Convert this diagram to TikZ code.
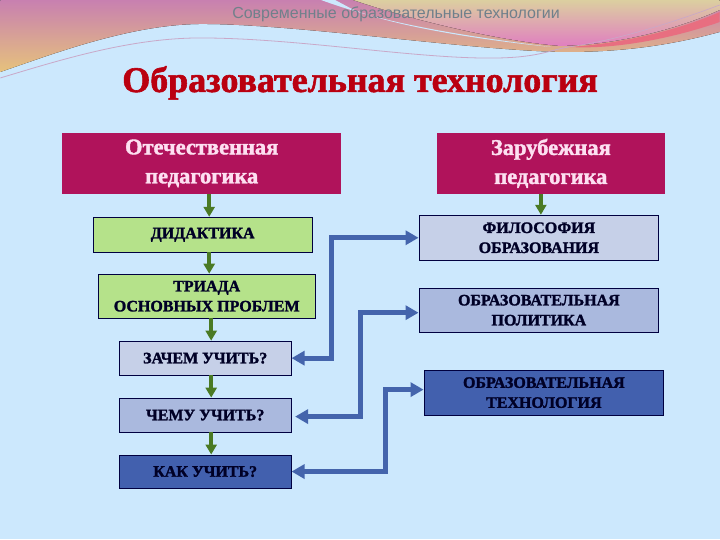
\documentclass[tikz,border=0pt]{standalone}
\usepackage{fontspec}
\setmainfont[BoldFeatures={FakeBold=1.6}]{Liberation Serif}
\newfontfamily\headfont{Liberation Sans}
\usetikzlibrary{positioning, arrows.meta}
\definecolor{skybg}{HTML}{CCE8FD}
\definecolor{roseband}{HTML}{B0135B}
\definecolor{leafbox}{HTML}{B5E28A}
\definecolor{paleblue}{HTML}{C6D0E8}
\definecolor{midblue}{HTML}{AAB9DE}
\definecolor{deepblue}{HTML}{4260AE}
\definecolor{linkblue}{HTML}{4464AC}
\definecolor{stemgreen}{HTML}{4A7A24}
\definecolor{titlered}{HTML}{BA0010}
\definecolor{waveplum}{HTML}{C880B0}
\definecolor{wavesand}{HTML}{E6C27C}
\definecolor{crestsand}{HTML}{DCCFA0}
\definecolor{crestpink}{HTML}{E07FC0}
\definecolor{streakrose}{HTML}{E86E80}
\definecolor{threadlilac}{HTML}{C9A8C8}
\tikzset{
  basebox/.style={draw=black!75!blue, line width=0.9pt, align=center, font=\bfseries\fontsize{16}{20}\selectfont, text=black!85!blue, inner sep=0pt},
  headbox/.style={fill=roseband, text=white!88!magenta, inner sep=0pt, align=center, font=\bfseries\fontsize{22.5}{29}\selectfont, execute at begin node={\rule{0pt}{30pt}}},
  stem/.style={draw=stemgreen, line width=4pt, -{Triangle[length=10pt,width=11pt]}},
  link/.style={draw=linkblue, line width=5pt, {Triangle[length=13pt,width=14pt]}-{Triangle[length=13pt,width=14pt]}},
}
\begin{document}
\begin{tikzpicture}[x=1pt,y=-1pt]
  \fill[skybg] (0,0) rectangle (720,540);
  % wave at the top
  \fill[top color=waveplum, bottom color=wavesand]
    (0,0) -- (720,0) -- (720,32) .. controls (690,40) and (640,52) .. (569,52)
    .. controls (480,52) and (300,24) .. (202,24) .. controls (130,24) and (50,55) .. (0,72) -- cycle;
  \fill[skybg] (321,0) .. controls (370,18) and (430,32) .. (551,47) .. controls (460,38) and (380,22) .. (350,8) -- (335,0) -- cycle;
  \fill[top color=crestsand, bottom color=crestpink]
    (353,0) -- (720,0) -- (720,10) .. controls (680,28) and (620,45) .. (560,46) .. controls (490,40) and (400,16) .. (353,0) -- cycle;
  \fill[streakrose] (720,12) .. controls (680,30) and (620,44) .. (569,47) .. controls (620,50) and (680,36) .. (720,22) -- cycle;
  \draw[threadlilac, line width=0.8pt] (0,78) .. controls (60,60) and (130,38) .. (200,38)
    .. controls (300,38) and (420,60) .. (500,58) .. controls (540,57) and (550,50) .. (569,47);
  \draw[threadlilac, line width=0.6pt] (569,47) .. controls (620,40) and (680,20) .. (720,5);
  \node[font=\headfont\fontsize{16}{18}\selectfont, text=black!45!skybg] (header) at (396,14) {Современные образовательные технологии};
  \node[font=\bfseries\fontsize{36}{40}\selectfont, text=titlered] (title) at (360,83) {Образовательная технология};

  \node[headbox, minimum width=279pt, minimum height=61pt] (home) at (201.5,163.5) {Отечественная\\педагогика};
  \node[headbox, minimum width=228pt, minimum height=61pt] (abroad) at (551,163.5) {Зарубежная\\педагогика};

  \node[basebox, fill=leafbox, minimum width=219pt, minimum height=35pt] (didactics) at (202.5,235) {ДИДАКТИКА};
  \node[basebox, fill=leafbox, minimum width=217pt, minimum height=44pt] (triad) at (206.5,296.5) {ТРИАДА\\ОСНОВНЫХ ПРОБЛЕМ};
  \node[basebox, fill=paleblue, minimum width=172pt, minimum height=34pt] (why) at (205,358.5) {ЗАЧЕМ УЧИТЬ?};
  \node[basebox, fill=midblue, minimum width=172pt, minimum height=34pt] (what) at (205,415.5) {ЧЕМУ УЧИТЬ?};
  \node[basebox, fill=deepblue, minimum width=172pt, minimum height=33pt] (how) at (205,472) {КАК УЧИТЬ?};

  \node[basebox, fill=paleblue, minimum width=240pt, minimum height=45pt] (philosophy) at (539,238) {ФИЛОСОФИЯ\\ОБРАЗОВАНИЯ};
  \node[basebox, fill=midblue, minimum width=240pt, minimum height=44pt] (policy) at (539,310.5) {ОБРАЗОВАТЕЛЬНАЯ\\ПОЛИТИКА};
  \node[basebox, fill=deepblue, minimum width=240pt, minimum height=45pt] (technology) at (544,393) {ОБРАЗОВАТЕЛЬНАЯ\\ТЕХНОЛОГИЯ};

  \draw[stem] (209,194) -- (209,217);
  \draw[stem] (209,252) -- (209,274);
  \draw[stem] (211,318) -- (211,341);
  \draw[stem] (211,375) -- (211,398);
  \draw[stem] (211,432) -- (211,455);
  \draw[stem] (541,194) -- (541,215);

  \draw[link] (philosophy.west) -- (331,238) -- (331,358.5) -- (why.east);
  \draw[link] (policy.west) ++(0,2.5) -- (360,313) -- (360,417) -- (295,417);
  \draw[link] (technology.west) ++(0,-3) -- (385,390) -- (385,472) -- (how.east);
\end{tikzpicture}
\end{document}
